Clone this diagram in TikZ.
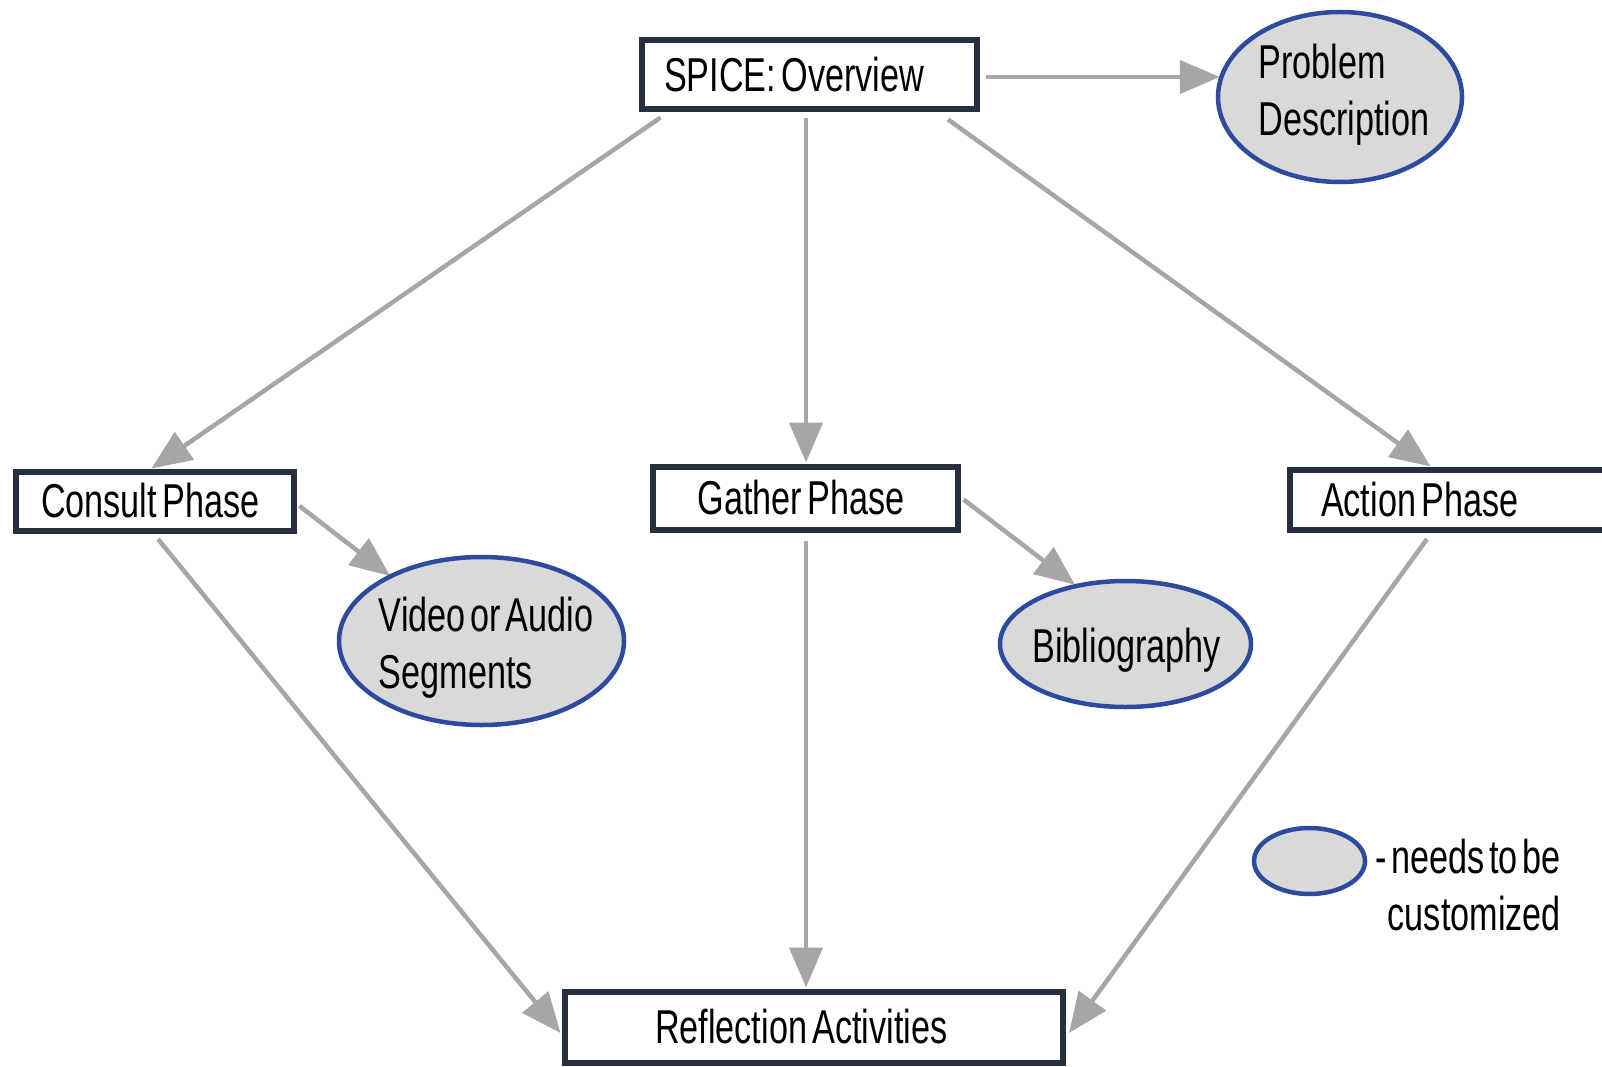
\documentclass[tikz,border=0pt]{standalone}
\usepackage{fontspec}
\setmainfont{Liberation Sans}[FakeStretch=0.72,WordSpace=0.5]
\usetikzlibrary{shapes.geometric,arrows.meta,backgrounds}
\definecolor{boxline}{HTML}{262F40}
\definecolor{ovalline}{HTML}{2C4A9E}
\definecolor{ovalfill}{HTML}{D9D9D9}
\definecolor{linkgray}{HTML}{A6A6A6}

\begin{document}
\begin{tikzpicture}[x=1pt,y=-1pt,
  txt/.style={font=\fontsize{47.5}{57}\selectfont, text=black},
  phasebox/.style={txt, draw=boxline, line width=6pt, fill=white, align=left, inner ysep=0pt,
    execute at begin node={\spaceskip=5.5pt\relax}},
  oval/.style={ellipse, draw=ovalline, line width=4.5pt, fill=ovalfill, inner sep=0pt},
  ovaltext/.style={txt, align=left, inner sep=0pt},
  link/.style={draw=linkgray, line width=4.5pt, -{Triangle[length=40pt,width=33pt]}},
]
\path[use as bounding box, clip] (0,0) rectangle (1602,1067);

% phase boxes
\node[phasebox, minimum height=69pt, text width=290pt, inner xsep=22.5pt] (spice) at (809,75) {SPICE: Overview};
\node[phasebox, minimum height=59pt, text width=227pt, inner xsep=25.5pt] (consult) at (154.5,501) {Consult Phase};
\node[phasebox, minimum height=63pt, text width=215pt, inner xsep=45pt] (gather) at (805,498) {Gather Phase};
\node[phasebox, minimum height=60pt, text width=307pt, inner xsep=31.5pt] (action) at (1474.5,499.5) {Action Phase};
\node[phasebox, minimum height=71pt, text width=317pt, inner xsep=90.5pt] (reflect) at (813.5,1027) {Reflection Activities};

% items that need to be customized
\node[oval, minimum width=244pt, minimum height=170pt] (problem) at (1340,97) {};
\node[oval, minimum width=285pt, minimum height=168pt] (video) at (481.5,641) {};
\node[oval, minimum width=251pt, minimum height=126pt] (biblio) at (1125.5,644) {};
\node[ovaltext] (problemtext) at ([xshift=4pt,yshift=2pt]problem.center) {Problem\\Description};
\node[ovaltext] (videotext) at ([xshift=4.5pt,yshift=-7pt]video.center) {Video or Audio\\Segments};
\node[ovaltext] (bibliotext) at ([xshift=1pt,yshift=-6.5pt]biblio.center) {Bibliography};

% key
\node[oval, minimum width=111pt, minimum height=66pt] (key) at (1309.5,861) {};
\node[txt, align=right, inner sep=0pt, anchor=east] (keytext) at (1561,885) {- needs to be\\customized};

% links, beneath the shapes so that the tips tuck under the borders
\begin{scope}[on background layer]
\draw[link] ([xshift=22pt,yshift=-5pt]spice.south west) -- ([xshift=-3pt]consult.north);
\draw[link] ([xshift=-3pt,yshift=-6pt]spice.south) -- ([xshift=1pt,yshift=1pt]gather.north);
\draw[link] ([xshift=-31.5pt,yshift=-7pt]spice.south east) -- ([xshift=144pt]action.north west);
\draw[link] ([xshift=6pt,yshift=-2pt]spice.east) -- ([xshift=4pt,yshift=20pt]problem.west);
\draw[link] ([xshift=3pt,yshift=-5pt]consult.east) -- ([xshift=11pt,yshift=4pt]video.north west);
\draw[link] ([xshift=3pt,yshift=-1.5pt]gather.east) -- ([xshift=-50.5pt,yshift=-6pt]biblio.north);
\draw[link] ([xshift=3.5pt,yshift=-5.5pt]consult.south) -- ([xshift=-1pt,yshift=-6pt]reflect.west);
\draw[link] ([xshift=1pt,yshift=-8pt]gather.south) -- ([xshift=-7.5pt,yshift=1pt]reflect.north);
\draw[link] ([xshift=140.5pt,yshift=-6.5pt]action.south west) -- ([xshift=3.5pt,yshift=-6pt]reflect.east);
\end{scope}
\end{tikzpicture}
\end{document}
